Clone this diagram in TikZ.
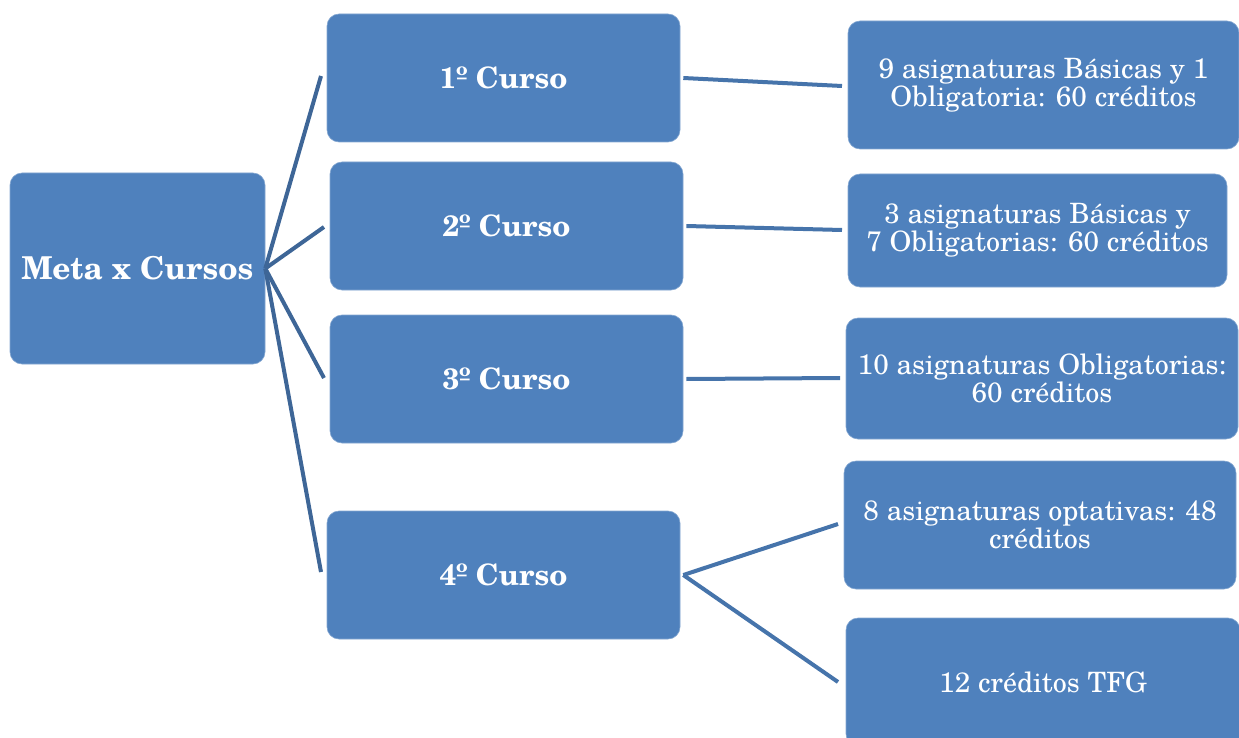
\documentclass[tikz,border=0pt]{standalone}
\usepackage{fontspec}
\setmainfont{TeX Gyre Schola}
\definecolor{boxblue}{HTML}{4F81BD}
\definecolor{lineL}{HTML}{3E6697}
\definecolor{lineR}{HTML}{4674AB}
\begin{document}
\begin{tikzpicture}[x=1pt,y=-1pt,
  box/.style={fill=boxblue,draw=boxblue!70!white,line width=0.6pt,rounded corners=12pt,text=white,align=center,inner sep=0pt},
  rootbox/.style={box,font=\fontsize{31.5}{34}\selectfont\bfseries},
  boldbox/.style={box,font=\fontsize{29.5}{32}\selectfont\bfseries},
  txtbox/.style={box,font=\fontsize{28}{28}\selectfont},
  connL/.style={draw=lineL,line width=4pt},
  connR/.style={draw=lineR,line width=4pt}]
\useasboundingbox (0,0) rectangle (1239,738);
\node[rootbox,minimum width=255pt,minimum height=191pt] (root) at (137.5,268.5) {Meta x Cursos};
\node[boldbox,minimum width=353pt,minimum height=128pt] (c1) at (503.5,78) {1º Curso};
\node[boldbox,minimum width=353pt,minimum height=128pt] (c2) at (506.5,226) {2º Curso};
\node[boldbox,minimum width=353pt,minimum height=128pt] (c3) at (506.5,379) {3º Curso};
\node[boldbox,minimum width=353pt,minimum height=128pt] (c4) at (503.5,575) {4º Curso};
\node[txtbox,minimum width=391pt,minimum height=128pt] (r1) at (1043.5,85) {9 asignaturas Básicas y 1\\Obligatoria: 60 créditos};
\node[txtbox,minimum width=379pt,minimum height=113pt] (r2) at (1037.5,230.5) {3 asignaturas Básicas y\\7 Obligatorias: 60 créditos};
\node[txtbox,minimum width=392pt,minimum height=121pt] (r3) at (1042,378.5) {10 asignaturas Obligatorias:\\60 créditos};
\node[txtbox,minimum width=392pt,minimum height=128pt] (r4) at (1040,525) {8 asignaturas optativas: 48\\créditos};
\node[txtbox,minimum width=394pt,minimum height=128pt] (r5) at (1043,682) {12 créditos TFG};
\coordinate (e1) at (321,76);
\coordinate (e2) at (324,227);
\coordinate (e3) at (324,378);
\coordinate (e4) at (321,572);
\coordinate (f1) at (842,86);
\coordinate (f2) at (842,230);
\coordinate (f3) at (840,378);
\coordinate (f4) at (838,524);
\coordinate (f5) at (838,682);
\draw[connL] (root.east) -- (e1);
\draw[connL] (root.east) -- (e2);
\draw[connL] (root.east) -- (e3);
\draw[connL] (root.east) -- (e4);
\draw[connR] ([xshift=3pt]c1.east) -- (f1);
\draw[connR] ([xshift=3pt]c2.east) -- (f2);
\draw[connR] ([xshift=3pt]c3.east) -- (f3);
\draw[connR] ([xshift=3pt]c4.east) -- (f4);
\draw[connR] ([xshift=3pt]c4.east) -- (f5);
\end{tikzpicture}
\end{document}
